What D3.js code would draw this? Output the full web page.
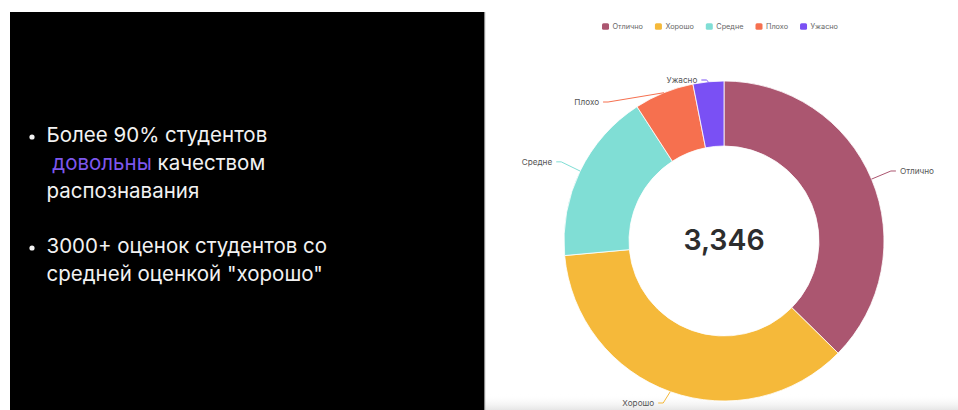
<!DOCTYPE html>
<html>
<head>
<meta charset="utf-8">
<script src="https://cdn.jsdelivr.net/npm/d3@7"></script>
<style>
  html, body { margin: 0; padding: 0; background: #fff; }
  svg { display: block; }
</style>
</head>
<body>
<svg id="slide" width="958" height="410"></svg>
<script>
// Rating categories and how many students gave each one
const categories = ["Отлично", "Хорошо", "Средне", "Плохо", "Ужасно"];
const counts = [1250, 1211, 579, 202, 104];
const colors = ["#ab5670", "#f5b93a", "#80ded5", "#f6704f", "#7a50f4"];

// Bullet text on the dark panel: each line is a list of [text, highlighted]
const bullets = [
  [
    [["Более 90% студентов", false]],
    [[" довольны", true], [" качеством", false]],
    [["распознавания", false]]
  ],
  [
    [["3000+ оценок студентов со", false]],
    [["средней оценкой \"хорошо\"", false]]
  ]
];

const svg = d3.select("#slide");
const W = 958, H = 410;

// soft shade along the bottom of the white area
const defs = svg.append("defs");
const shade = defs.append("linearGradient").attr("id", "bottomShade")
  .attr("x1", 0).attr("y1", 0).attr("x2", 0).attr("y2", 1);
shade.append("stop").attr("offset", "0%").attr("stop-color", "#fff").attr("stop-opacity", 0);
shade.append("stop").attr("offset", "100%").attr("stop-color", "#e6e6e6").attr("stop-opacity", 1);
svg.append("rect").attr("x", 485).attr("y", 394).attr("width", W - 485).attr("height", H - 394)
  .attr("fill", "url(#bottomShade)");

// ---- dark text panel ----
svg.append("rect").attr("x", 10).attr("y", 12).attr("width", 474).attr("height", H - 12).attr("fill", "#000");
svg.append("rect").attr("x", 484).attr("y", 12).attr("width", 1.2).attr("height", H - 12).attr("fill", "#8a8a8a");

const textFont = "Inter, 'Noto Sans', sans-serif";
const blockTops = [142, 253];
const lineStep = 27.8;
bullets.forEach((block, bi) => {
  const y0 = blockTops[bi];
  svg.append("circle").attr("cx", 32).attr("cy", y0 - 5).attr("r", 2.6).attr("fill", "#f2f2f2");
  block.forEach((line, li) => {
    const t = svg.append("text")
      .attr("x", 46.5).attr("y", y0 + li * lineStep)
      .attr("font-family", textFont).attr("font-size", 20.5).attr("font-weight", 400)
      .attr("fill", "#f2f2f2").attr("xml:space", "preserve").style("white-space", "pre");
    line.forEach(([s, hl]) => {
      t.append("tspan").text(s).attr("fill", hl ? "#7d57ee" : "#f2f2f2");
    });
  });
});

// ---- donut chart ----
const cx = 724, cy = 241;
const outerR = 160, innerR = 95;
const data = categories.map((c, i) => ({ name: c, value: counts[i], color: colors[i] }));
const total = d3.sum(counts);

const pie = d3.pie().value(d => d.value).sort(null);
const arcs = pie(data);
const arc = d3.arc().innerRadius(innerR).outerRadius(outerR);

const chart = svg.append("g").attr("transform", `translate(${cx},${cy})`);
chart.selectAll("path.slice")
  .data(arcs).join("path")
  .attr("class", "slice")
  .attr("d", arc)
  .attr("fill", d => d.data.color)
  .attr("stroke", "#fff").attr("stroke-width", 0.8);

chart.append("text")
  .attr("text-anchor", "middle").attr("dominant-baseline", "central")
  .attr("y", -2)
  .attr("font-family", "Inter, 'Noto Sans', sans-serif")
  .attr("font-size", 28.5).attr("font-weight", 600).attr("fill", "#2d2d2d")
  .text(d3.format(",")(total));

// ---- outside labels with leader lines ----
const len1 = 21, len2 = 5, textGap = 4;
const labelTop = 80, labelBottom = 403, labelSpacing = 22;
const labelR = outerR + len1;
const labels = arcs.map(a => {
  const mid = (a.startAngle + a.endAngle) / 2;
  const sx = Math.sin(mid), sy = -Math.cos(mid);
  return {
    a, mid,
    left: sx < 0,
    p0: [outerR * sx, outerR * sy],
    x: labelR * sx, y: labelR * sy
  };
});
// keep labels inside the chart band and apart from each other on each side
[true, false].forEach(side => {
  const list = labels.filter(l => l.left === side).sort((p, q) => p.y - q.y);
  let prev = -Infinity;
  list.forEach(l => {
    let y = Math.min(Math.max(l.y, labelTop - cy), labelBottom - cy);
    const clamped = y;
    if (y < prev + labelSpacing) y = prev + labelSpacing;
    if (y !== clamped) {
      // pushed by a neighbour: slide along the label circle
      const dy = Math.min(Math.abs(y), labelR);
      const dx = Math.sqrt(labelR * labelR - dy * dy);
      l.x = side ? -dx : dx;
    }
    l.y = y;
    prev = y;
  });
});

const lineGen = d3.line();
labels.forEach(l => {
  const dir = l.left ? -1 : 1;
  const p1 = [l.x, l.y];
  const p2 = [l.x + dir * len2, l.y];
  chart.append("path")
    .attr("d", lineGen([l.p0, p1, p2]))
    .attr("fill", "none").attr("stroke", l.a.data.color).attr("stroke-width", 1);
  chart.append("text")
    .attr("x", p2[0] + dir * textGap).attr("y", p2[1])
    .attr("text-anchor", l.left ? "end" : "start")
    .attr("dominant-baseline", "central")
    .attr("font-family", "Inter, 'Noto Sans', sans-serif")
    .attr("font-size", 8.2).attr("fill", "#555")
    .text(l.a.data.name);
});

// ---- legend ----
const legend = svg.append("g");
const sw = 7, sh = 6.5, swGap = 3.5, itemGap = 12;
let lx = 0;
data.forEach(d => {
  const g = legend.append("g").attr("transform", `translate(${lx},0)`);
  g.append("rect").attr("x", 0).attr("y", -sh / 2).attr("width", sw).attr("height", sh)
    .attr("rx", 1.5).attr("fill", d.color);
  const t = g.append("text").attr("x", sw + swGap).attr("y", 0)
    .attr("dominant-baseline", "central")
    .attr("font-family", "Inter, 'Noto Sans', sans-serif")
    .attr("font-size", 7.3).attr("fill", "#666").text(d.name);
  lx += sw + swGap + t.node().getComputedTextLength() + itemGap;
});
const legendW = lx - itemGap;
legend.attr("transform", `translate(${720 - legendW / 2},26.5)`);
</script>
</body>
</html>
